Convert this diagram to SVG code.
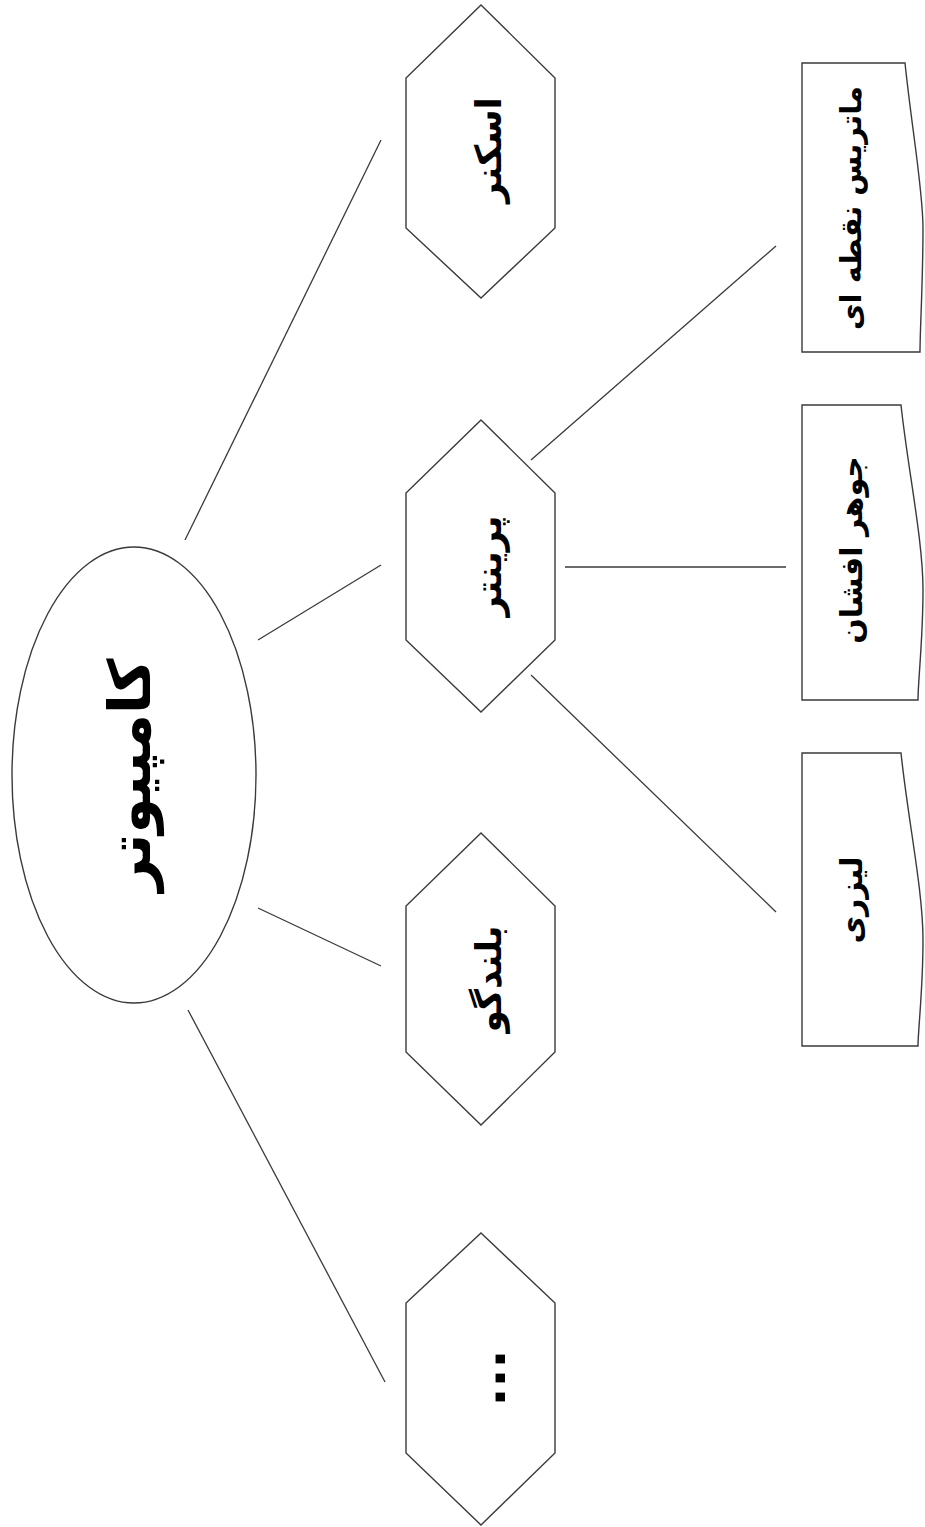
<svg xmlns="http://www.w3.org/2000/svg" width="925" height="1527" viewBox="0 0 925 1527">
<style>
.s{fill:#fff;stroke:#3a3a3a;stroke-width:1.4}
.c{stroke:#3a3a3a;stroke-width:1.3;fill:none}
.t{font-family:"DejaVu Sans",sans-serif;font-weight:bold;fill:#000;text-anchor:middle;dominant-baseline:central}
</style>
<rect width="925" height="1527" fill="#fff"/>
<g id="connectors">
<line class="c" x1="185" y1="540" x2="381" y2="140"/>
<line class="c" x1="258" y1="640" x2="381" y2="565"/>
<line class="c" x1="258" y1="908" x2="381" y2="966"/>
<line class="c" x1="188" y1="1010" x2="385" y2="1382"/>
<line class="c" x1="531" y1="460" x2="776" y2="246"/>
<line class="c" x1="565" y1="567" x2="786" y2="567"/>
<line class="c" x1="531" y1="675" x2="776" y2="912"/>
</g>
<g id="computer">
<ellipse class="s" cx="134" cy="775" rx="122" ry="228"/>
<text class="t" font-size="58" transform="translate(130,775) rotate(-90)">کامپیوتر</text>
</g>
<g id="scanner">
<path class="s" d="M481,5 L555,78 L555,228 L481,298 L406,228 L406,78 Z"/>
<text class="t" font-size="36" transform="translate(488,150) rotate(-90)">اسکنر</text>
</g>
<g id="printer">
<path class="s" d="M481,420 L555,493 L555,640 L481,712 L406,640 L406,493 Z"/>
<text class="t" font-size="36" transform="translate(488,566) rotate(-90)">پرینتر</text>
</g>
<g id="speaker">
<path class="s" d="M481,833 L555,906 L555,1052 L481,1125 L406,1052 L406,906 Z"/>
<text class="t" font-size="36" transform="translate(488,979) rotate(-90)">بلندگو</text>
</g>
<g id="more">
<path class="s" d="M481,1233 L555,1303 L555,1453 L481,1525 L406,1453 L406,1303 Z"/>
<text class="t" font-size="50" transform="translate(488,1378) rotate(-90)">...</text>
</g>
<g id="dotmatrix">
<path class="s" d="M802,63 L905,63 C912,130 923,190 923,228 C923,280 920,330 920,352 L802,352 Z"/>
<text class="t" font-size="29" transform="translate(851,208) rotate(-90)">ماتریس نقطه ای</text>
</g>
<g id="inkjet">
<path class="s" d="M802,405 L901,405 C908,470 923,540 923,590 C923,640 918,680 918,700 L802,700 Z"/>
<text class="t" font-size="30" transform="translate(851,550) rotate(-90)">جوهر افشان</text>
</g>
<g id="laser">
<path class="s" d="M802,753 L901,753 C908,820 923,890 923,940 C923,990 918,1030 918,1046 L802,1046 Z"/>
<text class="t" font-size="30" transform="translate(851,900) rotate(-90)">لیزری</text>
</g>
</svg>
